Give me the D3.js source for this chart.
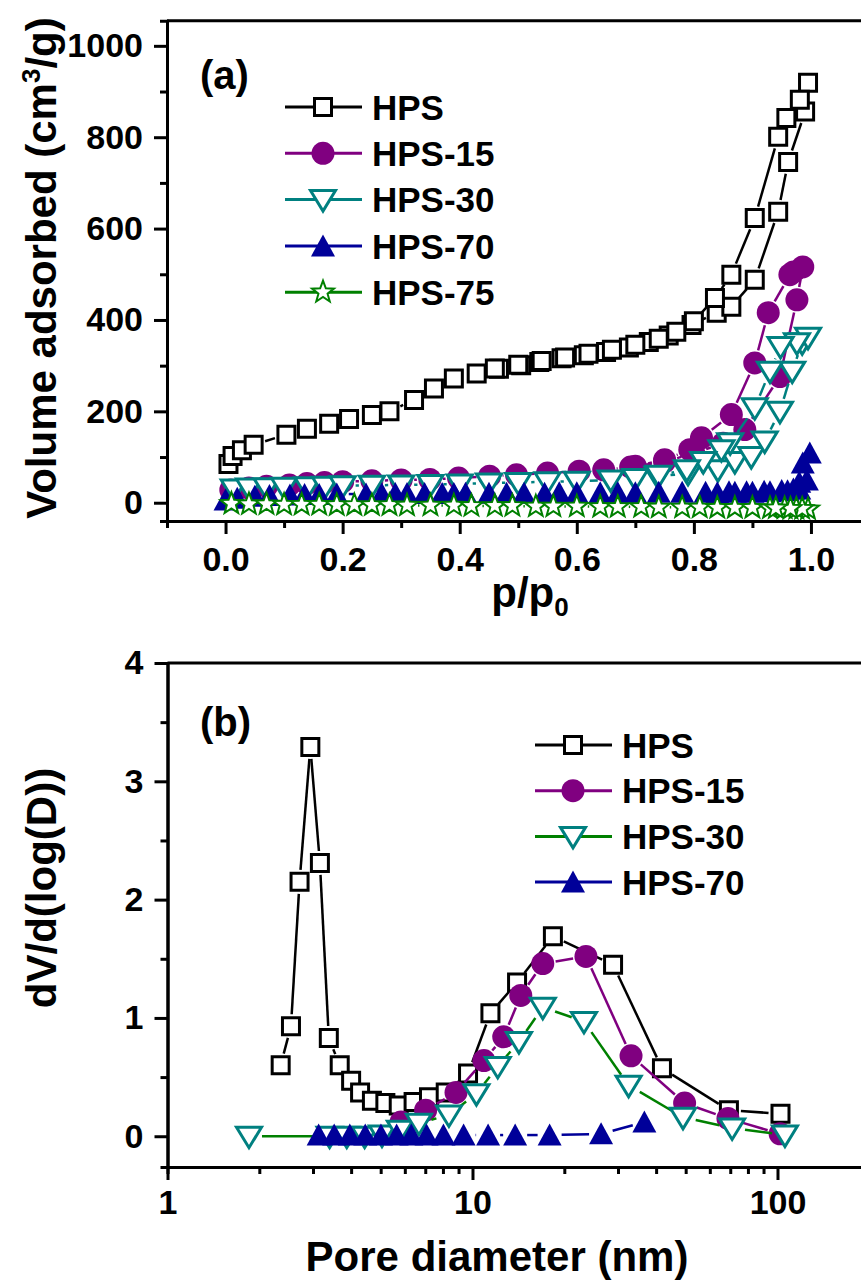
<!DOCTYPE html>
<html>
<head>
<meta charset="utf-8">
<script src="https://cdn.jsdelivr.net/npm/d3@7/dist/d3.min.js"></script>
<style>
  body { margin: 0; background: #fff; }
  svg text { font-family: "Liberation Sans", Arial, sans-serif; font-weight: bold; fill: #000; }
</style>
</head>
<body>
<svg id="chart" width="861" height="1284"></svg>
<script>
// ---------- panel (a): N2 isotherms, [p/p0, volume cm3/g] ----------
var isoHPS = [[0.005,85],[0.012,102],[0.028,115],[0.048,127],[0.104,149],[0.139,162],[0.177,173],
  [0.211,183],[0.25,192],[0.28,200],[0.322,225],[0.356,250],[0.39,272],[0.429,283],[0.467,293],
  [0.505,301],[0.536,308],[0.574,316],[0.612,323],[0.65,330],[0.689,340],[0.723,352],[0.757,366],
  [0.796,389],[0.839,416],[0.864,429],[0.904,488],[0.944,637],[0.961,746],[0.99,856],[0.995,919],
  [0.981,882],[0.958,842],[0.944,801],[0.904,623],[0.864,499],[0.836,448],[0.80,397],[0.77,374],
  [0.74,359],[0.70,346],[0.66,335],[0.62,326],[0.58,318],[0.54,310],[0.50,302],[0.46,294]];
var isoHPS15 = [[0.009,28],[0.04,32],[0.07,36],[0.109,39],[0.139,42],[0.169,44],[0.2,46],[0.25,48],
  [0.3,50],[0.349,51],[0.398,54],[0.451,58],[0.497,61],[0.55,65],[0.604,69],[0.646,72],[0.692,78],
  [0.75,90],[0.80,108],[0.85,130],[0.887,160],[0.947,276],[0.976,444],[0.986,516],
  [0.97,505],[0.964,499],[0.927,416],[0.904,306],[0.864,193],[0.813,142],[0.793,116],[0.75,94],[0.70,80]];
var isoHPS30 = [[0.014,30],[0.04,32],[0.07,33],[0.10,34],[0.14,35],[0.17,36],[0.2,37],[0.25,38],
  [0.3,39],[0.35,40],[0.4,41],[0.45,43],[0.5,44],[0.55,46],[0.6,47],[0.658,50],[0.70,53],[0.738,58],
  [0.79,64],[0.841,72],[0.87,90],[0.898,101],[0.921,135],[0.947,200],[0.968,288],[0.985,350],[0.995,362],
  [0.976,350],[0.948,342],[0.93,288],[0.904,208],[0.862,131],[0.847,116],[0.816,90],[0.788,72],[0.74,60]];
var isoHPS70 = [[0.0,6],[0.02,10],[0.05,14],[0.075,16],[0.11,17],[0.135,18],[0.16,18],[0.19,19],
  [0.24,19],[0.267,19],[0.29,20],[0.31,20],[0.34,20],[0.37,20],[0.39,20],[0.41,21],[0.45,21],[0.48,21],
  [0.51,21],[0.545,21],[0.57,22],[0.6,22],[0.64,22],[0.67,22],[0.70,22],[0.74,23],[0.78,23],[0.82,23],
  [0.86,24],[0.89,24],[0.92,25],[0.95,27],[0.97,30],[0.98,45],[0.986,87],[0.998,109],
  [0.993,50],[0.98,30],[0.96,26],[0.93,24],[0.90,23],[0.87,23],[0.84,22]];
var isoHPS75 = [[0.01,-2],[0.04,-3],[0.07,-3],[0.10,-4],[0.13,-4],[0.16,-4],[0.19,-5],[0.22,-5],
  [0.25,-5],[0.28,-5],[0.31,-6],[0.35,-6],[0.39,-6],[0.42,-7],[0.46,-7],[0.49,-7],[0.53,-8],[0.56,-8],
  [0.6,-8],[0.64,-9],[0.67,-9],[0.71,-9],[0.74,-10],[0.78,-10],[0.81,-10],[0.84,-11],[0.87,-11],
  [0.9,-11],[0.93,-12],[0.955,-12],[0.975,-13],[0.995,-14],[0.985,-13],[0.965,-13],[0.94,-12]];

// ---------- panel (b): pore size distribution, [D nm, dV/dlogD] ----------
var psdHPS = [[2.35,0.60],[2.54,0.93],[2.71,2.15],[2.94,3.29],[3.16,2.31],[3.38,0.83],[3.67,0.60],
  [4.0,0.47],[4.28,0.37],[4.68,0.30],[5.18,0.28],[5.73,0.26],[6.41,0.29],[7.2,0.33],[8.17,0.37],
  [9.67,0.53],[11.45,1.04],[14.0,1.30],[18.35,1.69],[28.9,1.45],[41.8,0.575],[69.3,0.22],[102.3,0.19]];
var psdHPS15 = [[5.83,0.12],[7.02,0.22],[8.83,0.37],[10.9,0.64],[12.66,0.84],[14.4,1.19],[17.0,1.46],
  [23.55,1.52],[33.1,0.68],[49.6,0.28],[68.8,0.15],[102,0.02]];
var psdHPS30 = [[1.85,0.0],[3.4,0.0],[3.87,0.0],[4.43,0.0],[5.05,0.01],[5.78,0.05],[6.67,0.11],
  [8.37,0.18],[10.3,0.36],[12.1,0.59],[14.2,0.80],[17.0,1.09],[23.2,0.97],[32.5,0.43],[49.0,0.16],
  [71.0,0.07],[105.8,0.01]];
var psdHPS70 = [[3.13,0.01],[3.52,0.01],[3.96,0.01],[4.45,0.01],[5.01,0.01],[5.64,0.01],[6.3,0.01],
  [7.07,0.01],[8.03,0.01],[9.35,0.01],[11.25,0.01],[13.8,0.01],[17.9,0.01],[26.4,0.02],[36.6,0.12]];

var isoNames = ["HPS", "HPS-15", "HPS-30", "HPS-70", "HPS-75"];
var psdNames = ["HPS", "HPS-15", "HPS-30", "HPS-70"];
var isoXTicks = [0, 0.2, 0.4, 0.6, 0.8, 1.0];
var isoYTicks = [0, 200, 400, 600, 800, 1000];
var psdXTicks = [1, 10, 100];
var psdYTicks = [0, 1, 2, 3, 4];

var svg = d3.select("#chart");

// marker paths centred on 0,0
function markerPath(type) {
  if (type == "square") return "M-8.5,-8.5H8.5V8.5H-8.5Z";
  if (type == "circle") return d3.symbol(d3.symbolCircle, Math.PI * 11.5 * 11.5)();
  if (type == "down") return "M-12.5,-9L12.5,-9L0,11.5Z";
  if (type == "up") return "M-12,10.5L12,10.5L0,-11.5Z";
  if (type == "star") {
    var p = [];
    for (var k = 0; k < 10; k++) {
      var r = k % 2 ? 4.8 : 11.5, a = -Math.PI / 2 + k * Math.PI / 5;
      p.push([r * Math.cos(a), r * Math.sin(a)]);
    }
    return "M" + p.join("L") + "Z";
  }
}
var style = {
  square: { fill: "#fff", sw: 3, gap: 12 },
  circle: { fill: null, sw: 0, gap: 13 },
  down:   { fill: "#fff", sw: 3, gap: 13 },
  up:     { fill: null, sw: 0, gap: 12 },
  star:   { fill: "#fff", sw: 2, gap: 11 }
};

function drawSeries(g, x, y, data, s) {
  var pts = data.map(function(d) { return [x(d[0]), y(d[1])]; });
  var st = style[s.marker];
  // Origin style: line segments stop short of the symbols
  var segs = [];
  for (var i = 1; i < pts.length; i++) {
    var a = pts[i - 1], b = pts[i];
    var dx = b[0] - a[0], dy = b[1] - a[1], len = Math.sqrt(dx * dx + dy * dy);
    if (len <= 2 * st.gap) continue;
    var ux = dx / len, uy = dy / len;
    segs.push([a[0] + ux * st.gap, a[1] + uy * st.gap, b[0] - ux * st.gap, b[1] - uy * st.gap]);
  }
  g.append("g").selectAll("line").data(segs).enter().append("line")
      .attr("x1", function(d) { return d[0]; }).attr("y1", function(d) { return d[1]; })
      .attr("x2", function(d) { return d[2]; }).attr("y2", function(d) { return d[3]; })
      .attr("stroke", s.line).attr("stroke-width", 2.5);
  g.append("g").selectAll("path").data(pts).enter().append("path")
      .attr("d", markerPath(s.marker))
      .attr("transform", function(d) { return "translate(" + d[0] + "," + d[1] + ")"; })
      .attr("fill", st.fill || s.color)
      .attr("stroke", st.sw ? s.color : "none")
      .attr("stroke-width", st.sw);
}

function drawLegend(g, names, series, x0, y0, dy) {
  names.forEach(function(n, i) {
    var s = series[i], st = style[s.marker], cy = y0 + i * dy;
    g.append("line").attr("x1", x0).attr("x2", x0 + 77).attr("y1", cy).attr("y2", cy)
        .attr("stroke", s.line).attr("stroke-width", 3);
    g.append("path").attr("d", markerPath(s.marker))
        .attr("transform", "translate(" + (x0 + 38) + "," + cy + ")")
        .attr("fill", st.fill || s.color)
        .attr("stroke", st.sw ? s.color : "none").attr("stroke-width", st.sw);
    g.append("text").attr("x", x0 + 87).attr("y", cy).attr("dy", "0.36em")
        .style("font-size", "35px").text(n);
  });
}

function styleAxis(a) {
  a.selectAll("path, line").attr("stroke", "#000").attr("stroke-width", 3);
  a.selectAll("text").style("font-size", "34px");
}

// ================= panel (a) =================
var xa = d3.scaleLinear().domain([-0.1, 1.1]).range([167, 869.5]);
var ya = d3.scaleLinear().domain([-40, 1055]).range([521, 20.7]);
var ga = svg.append("g");

ga.append("path").attr("d", "M167,20.7H869.5V521")
    .attr("fill", "none").attr("stroke", "#000").attr("stroke-width", 3);

var isoSeries = [
  { marker: "square", color: "#000", line: "#000" },
  { marker: "circle", color: "#800080", line: "#800080" },
  { marker: "down", color: "#008080", line: "#008080" },
  { marker: "up", color: "#000099", line: "#000099" },
  { marker: "star", color: "#008000", line: "#008000" }
];
[isoHPS, isoHPS15, isoHPS30, isoHPS70, isoHPS75].forEach(function(d, i) {
  drawSeries(ga, xa, ya, d, isoSeries[i]);
});

ga.append("g").attr("transform", "translate(0,521)")
    .call(d3.axisBottom(xa).tickValues([0.1, 0.3, 0.5, 0.7, 0.9]).tickSize(7).tickFormat(""))
    .call(styleAxis);
ga.append("g").attr("transform", "translate(0,521)")
    .call(d3.axisBottom(xa).tickValues(isoXTicks).tickSize(13).tickSizeOuter(0).tickPadding(13)
      .tickFormat(d3.format(".1f")))
    .call(styleAxis);
ga.append("g").attr("transform", "translate(167,0)")
    .call(d3.axisLeft(ya).tickValues([100, 300, 500, 700, 900]).tickSize(7).tickFormat(""))
    .call(styleAxis);
ga.append("g").attr("transform", "translate(167,0)")
    .call(d3.axisLeft(ya).tickValues(isoYTicks).tickSize(13).tickSizeOuter(0).tickPadding(11)
      .tickFormat(d3.format("d")))
    .call(styleAxis);

var xla = ga.append("text").attr("x", 530).attr("y", 607).attr("text-anchor", "middle")
    .style("font-size", "42px");
xla.append("tspan").text("p/p");
xla.append("tspan").attr("dy", 9).style("font-size", "26px").text("0");

var yla = ga.append("text").attr("transform", "translate(56,268) rotate(-90)")
    .attr("text-anchor", "middle").style("font-size", "42px");
yla.append("tspan").text("Volume adsorbed (cm");
yla.append("tspan").attr("dy", -16).style("font-size", "26px").text("3");
yla.append("tspan").attr("dy", 16).text("/g)");

ga.append("text").attr("x", 200).attr("y", 89).style("font-size", "40px").text("(a)");
drawLegend(ga, isoNames, isoSeries, 285, 107, 46.3);

// ================= panel (b) =================
var xb = d3.scaleLog().domain([1, 200]).range([167.5, 869.3]);
var yb = d3.scaleLinear().domain([-0.26, 4]).range([1167, 663]);
var gb = svg.append("g");

gb.append("path").attr("d", "M167.5,663H869.3V1167")
    .attr("fill", "none").attr("stroke", "#000").attr("stroke-width", 3);

var psdSeries = [
  { marker: "square", color: "#000", line: "#000" },
  { marker: "circle", color: "#800080", line: "#800080" },
  { marker: "down", color: "#008080", line: "#008000" },
  { marker: "up", color: "#000099", line: "#000099" }
];
[psdHPS, psdHPS15, psdHPS30, psdHPS70].forEach(function(d, i) {
  drawSeries(gb, xb, yb, d, psdSeries[i]);
});

var minorLog = [2, 3, 4, 5, 6, 7, 8, 9, 20, 30, 40, 50, 60, 70, 80, 90, 200];
gb.append("g").attr("transform", "translate(0,1167)")
    .call(d3.axisBottom(xb).tickValues(minorLog).tickSize(7).tickFormat(""))
    .call(styleAxis);
gb.append("g").attr("transform", "translate(0,1167)")
    .call(d3.axisBottom(xb).tickValues(psdXTicks).tickSize(13).tickSizeOuter(0).tickPadding(10)
      .tickFormat(d3.format("d")))
    .call(styleAxis);
gb.append("g").attr("transform", "translate(167.5,0)")
    .call(d3.axisLeft(yb).tickValues([0.5, 1.5, 2.5, 3.5]).tickSize(7).tickFormat(""))
    .call(styleAxis);
gb.append("g").attr("transform", "translate(167.5,0)")
    .call(d3.axisLeft(yb).tickValues(psdYTicks).tickSize(13).tickSizeOuter(0).tickPadding(11)
      .tickFormat(d3.format("d")))
    .call(styleAxis);

gb.append("text").attr("x", 497).attr("y", 1271).attr("text-anchor", "middle")
    .style("font-size", "42px").text("Pore diameter (nm)");
gb.append("text").attr("transform", "translate(56,888) rotate(-90)")
    .attr("text-anchor", "middle").style("font-size", "42px").text("dV/d(log(D))");

gb.append("text").attr("x", 200).attr("y", 736).style("font-size", "40px").text("(b)");
drawLegend(gb, psdNames, psdSeries, 535, 745, 45.7);
</script>
</body>
</html>
